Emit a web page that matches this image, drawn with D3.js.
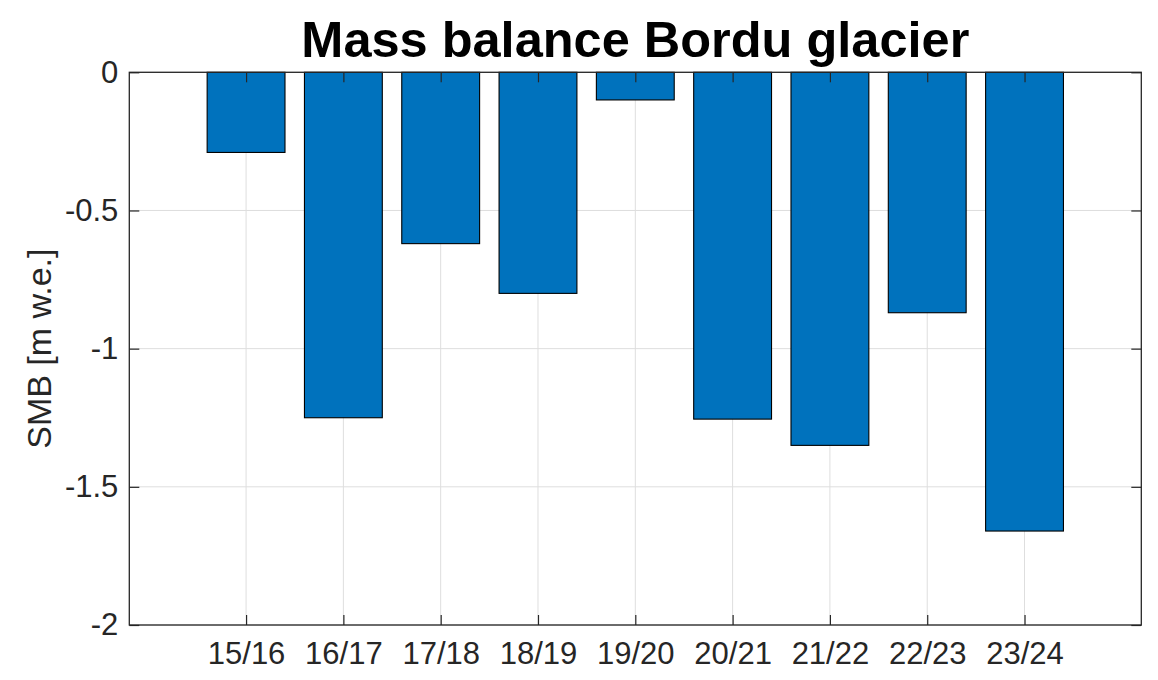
<!DOCTYPE html>
<html>
<head>
<meta charset="utf-8">
<script src="https://cdn.jsdelivr.net/npm/d3@7"></script>
<style>
  html, body { margin: 0; padding: 0; background: #fff; }
  svg { display: block; }
  text { font-family: "Liberation Sans", Arial, Helvetica, sans-serif; }
</style>
</head>
<body>
<svg id="chart" width="1158" height="680"></svg>
<script>
// Data
const categories = ["15/16", "16/17", "17/18", "18/19", "19/20", "20/21", "21/22", "22/23", "23/24"];
const smbValues = [-0.29, -1.25, -0.62, -0.80, -0.10, -1.255, -1.35, -0.87, -1.66];
const yTickValues = [0, -0.5, -1, -1.5, -2];
const yTickLabels = ["0", "-0.5", "-1", "-1.5", "-2"];
const titleText = "Mass balance Bordu glacier";
const yLabelText = "SMB [m w.e.]";

(function () {
const svg = d3.select("#chart");
const pLeft = 129.3, pRight = 1141.3, pTop = 72.3, pBottom = 625;
const textColor = "#262626";
const fontSize = 31;

const x = d3.scaleLinear().domain([-0.2, 10.2]).range([pLeft, pRight]);
const y = d3.scaleLinear().domain([-2, 0]).range([pBottom, pTop]);
const barWidth = 0.8;
const idx = categories.map((c, i) => i + 1);

// Grid lines
const grid = svg.append("g").attr("stroke", "#dedede").attr("stroke-width", 1);
grid.selectAll("line.gx").data(idx).join("line")
  .attr("x1", d => x(d)).attr("x2", d => x(d))
  .attr("y1", pTop).attr("y2", pBottom);
grid.selectAll("line.gy").data(yTickValues).join("line")
  .attr("x1", pLeft).attr("x2", pRight)
  .attr("y1", d => y(d)).attr("y2", d => y(d));

// Bars
svg.append("g").selectAll("rect").data(smbValues).join("rect")
  .attr("x", (d, i) => x(i + 1 - barWidth / 2))
  .attr("width", x(barWidth) - x(0))
  .attr("y", d => y(0))
  .attr("height", d => y(d) - y(0))
  .attr("fill", "#0072BD")
  .attr("stroke", "#000")
  .attr("stroke-width", 1.1);

// Axes
function styleAxis(g) {
  g.select(".domain").remove();
  g.selectAll(".tick line").attr("stroke", textColor).attr("stroke-width", 1.2);
  g.selectAll(".tick text").attr("fill", textColor).attr("font-size", fontSize)
    .attr("font-family", "'Liberation Sans', Arial, Helvetica, sans-serif");
}

svg.append("g").attr("transform", `translate(0,${pBottom})`)
  .call(d3.axisBottom(x).tickValues(idx).tickFormat((d, i) => categories[i]).tickSize(-10).tickPadding(17))
  .call(styleAxis);

svg.append("g").attr("transform", `translate(0,${pTop})`)
  .call(d3.axisTop(x).tickValues(idx).tickFormat("").tickSize(-10))
  .call(styleAxis);

svg.append("g").attr("transform", `translate(${pLeft},0)`)
  .call(d3.axisLeft(y).tickValues(yTickValues).tickFormat((d, i) => yTickLabels[i]).tickSize(-10).tickPadding(11))
  .call(styleAxis);

svg.append("g").attr("transform", `translate(${pRight},0)`)
  .call(d3.axisRight(y).tickValues(yTickValues).tickFormat("").tickSize(-10))
  .call(styleAxis);

// Box
svg.append("rect")
  .attr("x", pLeft).attr("y", pTop)
  .attr("width", pRight - pLeft).attr("height", pBottom - pTop)
  .attr("fill", "none").attr("stroke", textColor).attr("stroke-width", 1.3);

// Title
svg.append("text")
  .attr("x", (pLeft + pRight) / 2).attr("y", 57)
  .attr("text-anchor", "middle")
  .attr("font-size", 50.5).attr("font-weight", "bold").attr("fill", "#000")
  .text(titleText);

// Y label
svg.append("text")
  .attr("transform", `translate(51,${(pTop + pBottom) / 2}) rotate(-90)`)
  .attr("text-anchor", "middle")
  .attr("font-size", 34).attr("fill", textColor)
  .text(yLabelText);
})();
</script>
</body>
</html>
